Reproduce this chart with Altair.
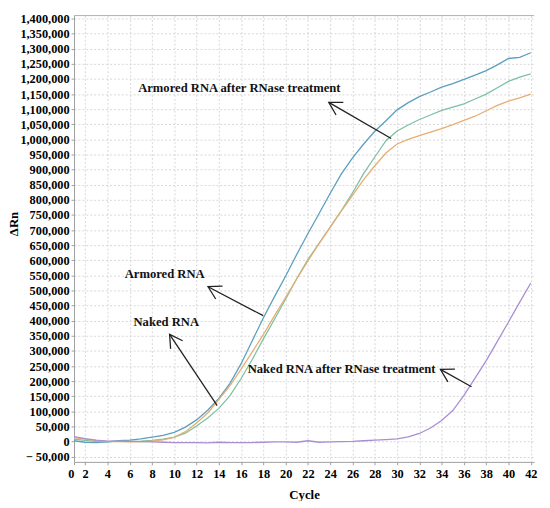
import altair as alt
import pandas as pd

# ---- data ----
cycles = list(range(1, 43))

armored = [3000, -2000, -3000, -1000, 3000, 5000, 9000, 15000, 21000, 31000,
           48000, 72000, 104000, 143000, 193000, 258000, 334000, 410000, 480000, 548000,
           620000, 689000, 755000, 822000, 886000, 939000, 985000, 1027000, 1062000, 1098000,
           1122000, 1142000, 1157000, 1173000, 1185000, 1199000, 1213000, 1228000, 1247000, 1268000,
           1272000, 1287000]

armored_rnase = [8000, 4000, 1000, 0, 1000, 1000, 2000, 4000, 8000, 15000,
                 28000, 52000, 78000, 110000, 152000, 209000, 272000, 340000, 405000, 472000,
                 540000, 603000, 656000, 710000, 765000, 823000, 888000, 942000, 996000, 1028000,
                 1048000, 1066000, 1081000, 1096000, 1107000, 1118000, 1134000, 1150000, 1171000, 1192000,
                 1206000, 1217000]

naked = [13000, 8000, 3000, 1000, 0, -1000, 0, 2000, 6000, 14000,
         33000, 62000, 95000, 139000, 185000, 240000, 297000, 355000, 417000, 478000,
         539000, 598000, 656000, 710000, 764000, 815000, 867000, 913000, 955000, 985000,
         1000000, 1013000, 1024000, 1036000, 1049000, 1063000, 1077000, 1095000, 1113000, 1127000,
         1138000, 1150000]

naked_rnase = [17000, 10000, 5000, 2000, 2000, 1000, 0, -1000, -2000, -3000,
               -3000, -3000, -4000, -2000, -3000, -3000, -3000, -2000, -1000, -1000,
               -2000, 3000, -2000, -1000, 0, 1000, 3000, 5000, 7000, 9000,
               16000, 27000, 45000, 70000, 103000, 153000, 210000, 268000, 332000, 396000,
               461000, 525000]

series_names = ["Armored RNA", "Armored RNA after RNase treatment", "Naked RNA",
                "Naked RNA after RNase treatment"]
series_colors = ["#5b9fbd", "#7fc0a3", "#e6ae73", "#a98ed3"]

# annotation labels (data coordinates)
ann_text = ["Armored RNA after RNase treatment", "Armored RNA", "Naked RNA",
            "Naked RNA after RNase treatment"]
ann_x = [15.84, 9.14, 9.28, 25.02]
ann_y = [1170000, 553700, 395400, 239000]

# arrows: tail -> tip (data coordinates), head angle in degrees
arr_tail_x = [29.47, 17.98, 13.85, 36.68]
arr_tail_y = [1003000, 416900, 119500, 181600]
arr_tip_x = [23.87, 13.03, 9.58, 33.89]
arr_tip_y = [1122600, 512700, 355000, 239000]
arr_angle = [210, 208, 236, 209]

x_ticks = [1] + list(range(2, 43, 2))
y_ticks = list(range(-50000, 1400001, 50000))

# ---- build tables ----
rows = []
for name, vals in zip(series_names, [armored, armored_rnase, naked, naked_rnase]):
    for c, v in zip(cycles, vals):
        rows.append({"cycle": c, "value": v, "series": name})
df = pd.DataFrame(rows)

ann_df = pd.DataFrame({"text": ann_text, "x": ann_x, "y": ann_y})
arr_df = pd.DataFrame({"x": arr_tail_x, "y": arr_tail_y, "x2": arr_tip_x, "y2": arr_tip_y,
                       "ang": arr_angle})

FONT = "Liberation Serif"
W, H = 467, 453

xscale = alt.Scale(domain=[1, 42.3], nice=False, zero=False)
yscale = alt.Scale(domain=[-67000, 1410000], nice=False, zero=False)

xaxis = alt.Axis(values=x_ticks, title="Cycle", grid=True, gridColor="#d6d6d6",
                 gridDash=[2, 2], labelFlush=False, labelOverlap=False,
                 labelExpr="datum.value == 1 ? '0' : datum.label",
                 labelAlign={"condition": {"test": "datum.value == 1", "value": "right"},
                             "value": "center"},
                 tickSize=3, labelPadding=3, titlePadding=9)
yaxis = alt.Axis(values=y_ticks, title="ΔRn", grid=True, gridColor="#d6d6d6",
                 gridDash=[2, 2], labelOverlap=False,
                 labelExpr="datum.value < 0 ? '\u2212 ' + format(-datum.value, ',') : format(datum.value, ',')",
                 tickSize=3, labelPadding=2,
                 titleX=-61, titleY=211, titleAngle=270, titleAlign="center",
                 titleBaseline="middle")

lines = alt.Chart(df).mark_line(strokeWidth=1.3, clip=True).encode(
    x=alt.X("cycle:Q", scale=xscale, axis=xaxis),
    y=alt.Y("value:Q", scale=yscale, axis=yaxis),
    color=alt.Color("series:N", scale=alt.Scale(domain=series_names, range=series_colors),
                    legend=None),
    order="cycle:Q",
)

frame_top = alt.Chart(pd.DataFrame({"a": [0]})).mark_rule(color="#b0b0b0", strokeWidth=1).encode(
    x=alt.value(0), x2=alt.value(W), y=alt.value(0)
)

labels = alt.Chart(ann_df).mark_text(font=FONT, fontWeight="bold", fontSize=12.8,
                                     color="#111111", align="center", baseline="middle").encode(
    x=alt.X("x:Q", scale=xscale, axis=xaxis), y=alt.Y("y:Q", scale=yscale, axis=yaxis),
    text="text:N"
)

shafts = alt.Chart(arr_df).mark_rule(color="#222222", strokeWidth=1.3).encode(
    x=alt.X("x:Q", scale=xscale, axis=xaxis), y=alt.Y("y:Q", scale=yscale, axis=yaxis),
    x2="x2:Q", y2="y2:Q"
)

heads = alt.Chart(arr_df).mark_point(shape="M-1,-0.577L0,0L-1,0.577", filled=False,
                                     size=650, color="#222222", strokeWidth=1.3,
                                     opacity=1).encode(
    x=alt.X("x2:Q", scale=xscale, axis=xaxis), y=alt.Y("y2:Q", scale=yscale, axis=yaxis),
    angle=alt.Angle("ang:Q", scale=None)
)

chart = alt.layer(lines, frame_top, shafts, heads, labels).properties(
    width=W, height=H,
    autosize=alt.AutoSizeParams(type="none"),
    padding={"left": 67, "top": 4, "right": 8, "bottom": 36},
    background="white",
).configure_view(stroke=None).configure_axis(
    labelFont=FONT, labelFontWeight="bold", labelFontSize=12.5, labelColor="#000000",
    titleFont=FONT, titleFontWeight="bold", titleFontSize=13, titleColor="#000000",
    domainColor="#a0a0a0", tickColor="#a0a0a0", labelOverlap=False,
)

chart.save("out.html", embed_options={"renderer": "svg", "actions": False})
